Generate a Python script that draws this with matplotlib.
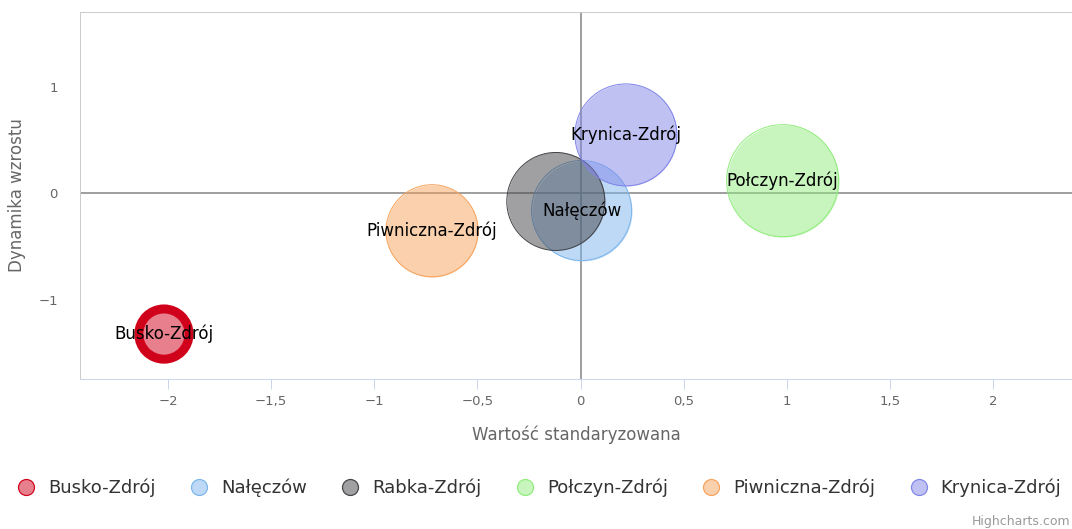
import numpy as np
import matplotlib
matplotlib.use("Agg")
import matplotlib.pyplot as plt
from matplotlib.lines import Line2D
from matplotlib.ticker import FuncFormatter

# dane
names = ['Busko-Zdrój', 'Nałęczów', 'Rabka-Zdrój', 'Połczyn-Zdrój', 'Piwniczna-Zdrój', 'Krynica-Zdrój']
x_std = [-2.02, 0.005, -0.12, 0.98, -0.72, 0.22]
y_dyn = [-1.32, -0.16, -0.075, 0.12, -0.35, 0.55]
z_size = [6.3, 25.0, 24.0, 31.4, 21.2, 26.0]
show_label = [True, True, False, True, True, True]

colors = ['#d0021b', '#7cb5ec', '#434348', '#90ed7d', '#f7a35c', '#8085e9']

DPI = 100
fig = plt.figure(figsize=(10.72, 5.29), dpi=DPI)
ax = fig.add_axes([80 / 1072, 150 / 529, 992 / 1072, 367 / 529])

px = 72 / DPI  # pixel -> point

def fmt(v, pos):
    s = ('%g' % v).replace('.', ',')
    return s.replace('-', '\u2212')

for i, n in enumerate(names):
    s = z_size[i] * 100 * (2 * px) ** 2
    lw = 9 * px if i == 0 else 1 * px
    ax.scatter(x_std[i], y_dyn[i], s=s, color=colors[i], alpha=0.5, linewidths=0, zorder=3 + i)
    ax.scatter(x_std[i], y_dyn[i], s=s, facecolors='none', edgecolors=colors[i],
               linewidths=lw, zorder=3 + i)

for i, n in enumerate(names):
    if show_label[i]:
        ax.text(x_std[i], y_dyn[i], n, ha='center', va='center', fontsize=12,
                color='#000000', zorder=20)

ax.axvline(0, color='#a0a0a0', lw=2 * px, zorder=2)
ax.axhline(0, color='#a0a0a0', lw=2 * px, zorder=2)

ax.set_xlim(-2.427, 2.383)
ax.set_ylim(-1.742, 1.704)
ax.set_xticks([-2, -1.5, -1, -0.5, 0, 0.5, 1, 1.5, 2])
ax.set_yticks([-1, 0, 1])
ax.xaxis.set_major_formatter(FuncFormatter(fmt))
ax.yaxis.set_major_formatter(FuncFormatter(fmt))
ax.tick_params(axis='x', length=10 * px, width=1 * px, color='#ccd6eb', labelsize=9.5,
               labelcolor='#666666', pad=4)
ax.tick_params(axis='y', length=0, labelsize=9.5, labelcolor='#666666', pad=22 * px)

for side in ['left', 'top']:
    ax.spines[side].set_color('#cccccc')
    ax.spines[side].set_linewidth(1 * px)
ax.spines['right'].set_visible(False)
ax.spines['bottom'].set_color('#ccd6eb')
ax.spines['bottom'].set_linewidth(1 * px)

ax.set_xlabel('Wartość standaryzowana', fontsize=12, color='#666666', labelpad=13)
ax.set_ylabel('Dynamika wzrostu', fontsize=12, color='#666666', labelpad=9)

handles = [Line2D([], [], marker='o', linestyle='none', markersize=16 * px,
                  markerfacecolor=matplotlib.colors.to_rgba(c, 0.5), markeredgecolor=c,
                  markeredgewidth=1.2 * px) for c in colors]
fig.legend(handles, names, loc='center', bbox_to_anchor=(0.503, 41 / 529), ncol=6,
           frameon=False, fontsize=13, labelcolor='#333333', handletextpad=0.72,
           columnspacing=1.9, handlelength=1.0)

fig.text(1070 / 1072, 8 / 529, 'Highcharts.com', fontsize=9, color='#999999',
         ha='right', va='center')

fig.savefig('out.png', dpi=DPI)
